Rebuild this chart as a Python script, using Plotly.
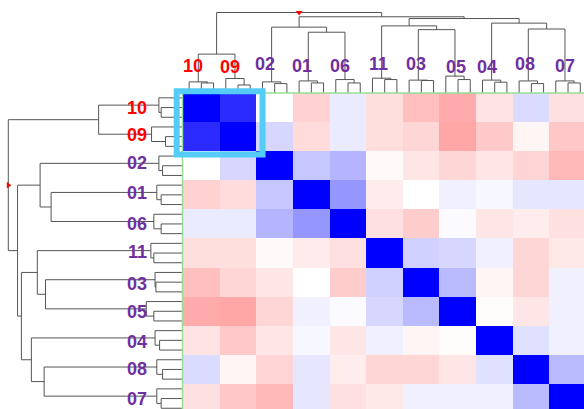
import plotly.graph_objects as go

# ---------------- data ----------------
samples = ["10", "09", "02", "01", "06", "11", "03", "05", "04", "08", "07"]
highlight = ["10", "09"]

corr_10 = [1.00, 0.83, 0.00, -0.18, 0.08, -0.13, -0.25, -0.33, -0.11, 0.14, -0.12]
corr_09 = [0.83, 1.00, 0.16, -0.14, 0.08, -0.13, -0.16, -0.35, -0.21, -0.04, -0.22]
corr_02 = [0.00, 0.16, 1.00, 0.22, 0.29, -0.02, -0.10, -0.16, -0.10, -0.17, -0.28]
corr_01 = [-0.18, -0.14, 0.22, 1.00, 0.41, -0.08, 0.00, 0.06, 0.03, 0.10, 0.10]
corr_06 = [0.08, 0.08, 0.29, 0.41, 1.00, -0.12, -0.20, 0.02, -0.10, -0.07, -0.12]
corr_11 = [-0.13, -0.13, -0.02, -0.08, -0.12, 1.00, 0.18, 0.16, 0.06, -0.16, -0.09]
corr_03 = [-0.25, -0.16, -0.10, 0.00, -0.20, 0.18, 1.00, 0.27, -0.04, -0.16, 0.06]
corr_05 = [-0.33, -0.35, -0.16, 0.06, 0.02, 0.16, 0.27, 1.00, -0.01, -0.10, 0.06]
corr_04 = [-0.11, -0.21, -0.10, 0.03, -0.10, 0.06, -0.04, -0.01, 1.00, 0.12, 0.06]
corr_08 = [0.14, -0.04, -0.17, 0.10, -0.07, -0.16, -0.16, -0.10, 0.12, 1.00, 0.27]
corr_07 = [-0.12, -0.22, -0.28, 0.10, -0.12, -0.09, 0.06, 0.06, 0.06, 0.27, 1.00]
corr = [corr_10, corr_09, corr_02, corr_01, corr_06, corr_11,
        corr_03, corr_05, corr_04, corr_08, corr_07]

# replicate sub-tree heights (3 replicates per sample: a joins (b,c))
rep_height_a = [0.138, 0.180, 0.138, 0.150, 0.167, 0.184, 0.160, 0.210, 0.160, 0.150, 0.150]
rep_height_bc = [0.125, 0.100, 0.117, 0.125, 0.125, 0.167, 0.155, 0.167, 0.134, 0.117, 0.125]

# cluster merges: (left, right, height, new node)
merges = [
    ("10", "09", 0.483, "n1"),
    ("01", "06", 0.755, "n2"),
    ("02", "n2", 0.818, "n3"),
    ("03", "05", 0.787, "n4"),
    ("11", "n4", 0.834, "n5"),
    ("08", "07", 0.795, "n6"),
    ("04", "n6", 0.868, "n7"),
    ("n5", "n7", 0.925, "n8"),
    ("n3", "n8", 0.947, "n9"),
    ("n1", "n9", 1.000, "root"),
]

# ---------------- layout constants ----------------
W, H = 584, 409
HM_LEFT, HM_TOP = 183.0, 93.0
CELL_W, CELL_H = 36.67, 29.1
TOP_SCALE = 80.5     # px per height unit (top dendrogram)
LEFT_SCALE = 174.7   # px per height unit (left dendrogram)
LINE_COLOR = "#555555"
PURPLE = "#7030A0"
RED = "#FF0000"
FONT = "Liberation Sans, Arial, sans-serif"

n = len(samples)
x_range = [-0.5, -0.5 + (W - HM_LEFT) / CELL_W]
y_range = [-0.5 + (H - HM_TOP) / CELL_H, -0.5]


def col_px(c):
    return HM_LEFT + (c + 0.5) * CELL_W


def row_px(r):
    return HM_TOP + (r + 0.5) * CELL_H


def px_to_paper_x(px):
    return px / W


def px_to_paper_y(py):
    return 1 - py / H


# ---------------- dendrogram geometry ----------------
seg_p, seg_h = [], []   # position along leaves, height
pos, hgt = {}, {}


def add_link(p1, h1, p2, h2, h):
    seg_p.extend([p1, p1, p2, p2, None])
    seg_h.extend([h1, h, h, h2, None])


for i, s in enumerate(samples):
    a, b, c = i - 1 / 3, i, i + 1 / 3
    ha, hbc = rep_height_a[i], rep_height_bc[i]
    add_link(b, 0, c, 0, hbc)
    pbc = (b + c) / 2
    add_link(a, 0, pbc, hbc, ha)
    pos[s] = (a + pbc) / 2
    hgt[s] = ha

for left, right, h, name in merges:
    add_link(pos[left], hgt[left], pos[right], hgt[right], h)
    pos[name] = (pos[left] + pos[right]) / 2
    hgt[name] = h

root_pos, root_h = pos["root"], hgt["root"]

# ---------------- figure ----------------
fig = go.Figure()

colorscale = [[0.0, "rgb(255,0,0)"], [0.5, "rgb(255,255,255)"], [1.0, "rgb(0,0,255)"]]
fig.add_trace(go.Heatmap(
    z=corr, x=list(range(n)), y=list(range(n)),
    colorscale=colorscale, zmin=-1, zmax=1, showscale=False,
    xaxis="x", yaxis="y", hoverinfo="skip",
))

# top dendrogram
fig.add_trace(go.Scatter(
    x=seg_p, y=seg_h, mode="lines", xaxis="x2", yaxis="y2",
    line=dict(color=LINE_COLOR, width=1), hoverinfo="skip", cliponaxis=False,
))
fig.add_trace(go.Scatter(
    x=[root_pos], y=[root_h], mode="markers", xaxis="x2", yaxis="y2",
    marker=dict(symbol="triangle-down", size=6, color=RED), hoverinfo="skip",
    cliponaxis=False,
))

# left dendrogram
fig.add_trace(go.Scatter(
    x=seg_h, y=seg_p, mode="lines", xaxis="x3", yaxis="y3",
    line=dict(color=LINE_COLOR, width=1), hoverinfo="skip", cliponaxis=False,
))
fig.add_trace(go.Scatter(
    x=[root_h], y=[root_pos], mode="markers", xaxis="x3", yaxis="y3",
    marker=dict(symbol="triangle-right", size=6, color=RED), hoverinfo="skip",
    cliponaxis=False,
))

hm_xdom = [HM_LEFT / W, 1]
hm_ydom = [0, 1 - HM_TOP / H]
hidden = dict(visible=False, showgrid=False, zeroline=False, fixedrange=True)

fig.update_layout(
    width=W, height=H,
    margin=dict(l=0, r=0, t=0, b=0),
    paper_bgcolor="white", plot_bgcolor="white",
    showlegend=False,
    xaxis=dict(domain=hm_xdom, range=x_range, **hidden),
    yaxis=dict(domain=hm_ydom, range=y_range, **hidden),
    xaxis2=dict(domain=hm_xdom, range=x_range, anchor="y2", **hidden),
    yaxis2=dict(domain=[1 - HM_TOP / H, 1], range=[0, HM_TOP / TOP_SCALE], anchor="x2", **hidden),
    xaxis3=dict(domain=[0, HM_LEFT / W], range=[HM_LEFT / LEFT_SCALE, 0], anchor="y3", **hidden),
    yaxis3=dict(domain=hm_ydom, range=y_range, anchor="x3", **hidden),
)

# labels (small hand-placement offsets, px)
top_dx = [-8.3, -8.0, -9.7, -9.6, -8.3, -6.4, -5.3, -2.2, -7.4, -6.3, -3.0]
top_cy = [67.0, 67.5, 65.0, 66.7, 66.7, 65.5, 65.0, 67.5, 67.8, 65.0, 66.7]
left_dy = [1.2, -0.4, -1.3, -1.2, 1.0, 0.2, 2.8, 2.0, 2.9, 0.5, 1.6]
LEFT_LABEL_RIGHT = 148.5

annotations = []
for i, s in enumerate(samples):
    color = RED if s in highlight else PURPLE
    annotations.append(dict(
        text="<b>%s</b>" % s, xref="paper", yref="paper",
        x=px_to_paper_x(col_px(i) + top_dx[i]), y=px_to_paper_y(top_cy[i] - 1),
        xanchor="center", yanchor="middle", showarrow=False,
        font=dict(family=FONT, size=18, color=color),
    ))
    annotations.append(dict(
        text="<b>%s</b>" % s, xref="paper", yref="paper",
        x=px_to_paper_x(LEFT_LABEL_RIGHT), y=px_to_paper_y(row_px(i) + left_dy[i] - 1),
        xanchor="right", yanchor="middle", showarrow=False,
        font=dict(family=FONT, size=18, color=color),
    ))
fig.update_layout(annotations=annotations)

# heatmap border lines and selection rectangle
GREEN = "#96de96"
shapes = [
    dict(type="line", xref="paper", yref="paper",
         x0=px_to_paper_x(HM_LEFT - 0.5), x1=1,
         y0=px_to_paper_y(HM_TOP), y1=px_to_paper_y(HM_TOP),
         line=dict(color=GREEN, width=1.5)),
    dict(type="line", xref="paper", yref="paper",
         x0=px_to_paper_x(HM_LEFT - 0.5), x1=px_to_paper_x(HM_LEFT - 0.5),
         y0=px_to_paper_y(HM_TOP), y1=0,
         line=dict(color=GREEN, width=1.5)),
]
sel_first = samples.index(highlight[0])
sel_last = samples.index(highlight[-1])
sel_x0 = col_px(sel_first) - CELL_W / 2 - 6.3
sel_x1 = col_px(sel_last) + CELL_W / 2 + 6.2
sel_y0 = row_px(sel_first) - CELL_H / 2 - 1.8
sel_y1 = row_px(sel_last) + CELL_H / 2 + 3.3
shapes.append(dict(
    type="rect", xref="paper", yref="paper",
    x0=px_to_paper_x(sel_x0), x1=px_to_paper_x(sel_x1),
    y0=px_to_paper_y(sel_y0), y1=px_to_paper_y(sel_y1),
    line=dict(color="#55CCF5", width=6), fillcolor="rgba(0,0,0,0)",
))
fig.update_layout(shapes=shapes)

fig.write_html("out.html", config={"displayModeBar": False})
